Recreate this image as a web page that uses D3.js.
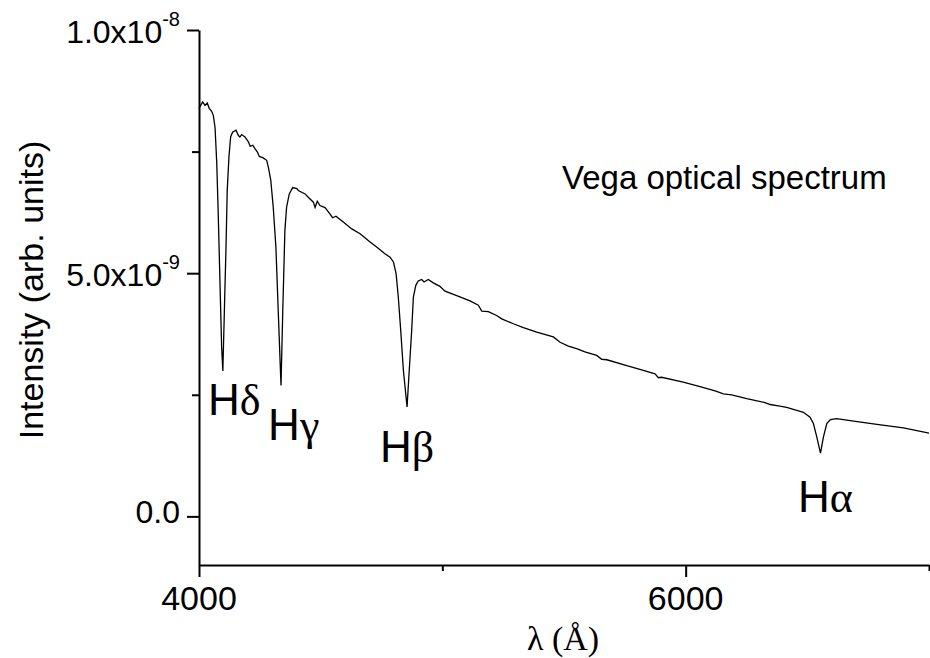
<!DOCTYPE html>
<html><head><meta charset="utf-8">
<script src="https://cdn.jsdelivr.net/npm/d3@7"></script>
<style>body{margin:0;background:#fff} text{font-family:"Liberation Sans",Arial,sans-serif;fill:#000}</style>
</head><body><svg id="c" width="930" height="658"></svg>
<script>
// Vega optical spectrum, intensity in units of 1e-9 (arb. units)
const wavelength = [4000,4015,4025,4034,4042,4052,4059,4066,4073,4079,4086,4093,4098,4104,4111,4116,4123,4130,4138,4152,4162,4168,4175,4189,4203,4210,4221,4230,4240,4248,4264,4278,4285,4295,4305,4316,4326,4337,4344,4353,4360,4371,4385,4402,4408,4436,4449,4470,4477,4486,4497,4518,4538,4549,4563,4593,4628,4662,4703,4730,4764,4785,4799,4810,4819,4829,4840,4855,4864,4874,4881,4891,4901,4915,4925,4942,4963,4990,5011,5059,5114,5148,5162,5189,5223,5244,5292,5333,5388,5456,5484,5518,5552,5586,5634,5655,5676,5758,5826,5874,5888,5901,5990,6059,6121,6155,6189,6251,6326,6347,6381,6415,6484,6511,6525,6539,6554,6566,6580,6595,6621,6676,6786,6895,6990,7000];
const intensity = [8.39,8.52,8.45,8.50,8.39,8.33,8.24,7.99,7.26,6.23,4.85,3.48,2.99,4.17,5.54,6.70,7.39,7.80,7.90,7.94,7.83,7.80,7.85,7.80,7.70,7.61,7.63,7.56,7.49,7.40,7.37,7.32,7.18,6.91,6.36,5.54,4.17,2.69,4.17,5.88,6.36,6.63,6.76,6.74,6.70,6.63,6.56,6.46,6.35,6.48,6.39,6.35,6.22,6.14,6.17,6.05,5.91,5.81,5.64,5.54,5.40,5.33,5.23,4.99,4.51,3.82,3.00,2.25,3.00,3.82,4.51,4.75,4.84,4.87,4.82,4.87,4.80,4.73,4.63,4.54,4.43,4.34,4.22,4.21,4.13,4.06,3.96,3.88,3.79,3.69,3.58,3.50,3.45,3.38,3.31,3.23,3.22,3.10,3.00,2.93,2.85,2.86,2.76,2.67,2.58,2.52,2.50,2.42,2.34,2.30,2.27,2.24,2.14,2.04,1.91,1.63,1.30,1.63,1.91,1.99,2.01,1.97,1.89,1.82,1.72,1.71];

const xTicks = [4000, 6000];
const xMinorTicks = [5000, 7000];
const yTicks = [0, 5, 10];
const yTickBase = ["0.0", "5.0x10", "1.0x10"];
const yTickExp = ["", "-9", "-8"];
const yMinorTicks = [2.5, 7.5];

const lineGreek = ["δ", "γ", "β", "α"];
const lineLabelLambda = [4037, 4284, 4744, 6462];
const lineLabelValue = [2.08, 1.56, 1.11, 0.08];

const title = "Vega optical spectrum";
const xTitle = "λ (Å)";
const yTitle = "Intensity (arb. units)";

const svg = d3.select("#c");
const x = d3.scaleLinear().domain([4000, 7000]).range([199, 929]);
const y = d3.scaleLinear().domain([-1, 10]).range([565, 30]);

// axes
svg.append("g").attr("transform", "translate(0,565)")
  .call(d3.axisBottom(x).tickValues(xTicks).tickSize(12).tickSizeOuter(0).tickFormat(""));
svg.append("g").attr("transform", "translate(0,565)")
  .call(d3.axisBottom(x).tickValues(xMinorTicks).tickSize(6).tickSizeOuter(0).tickFormat(""))
  .select(".domain").remove();
svg.append("g").attr("transform", "translate(199,0)")
  .call(d3.axisLeft(y).tickValues(yTicks).tickSize(12).tickSizeOuter(0).tickFormat(""));
svg.append("g").attr("transform", "translate(199,0)")
  .call(d3.axisLeft(y).tickValues(yMinorTicks).tickSize(7).tickSizeOuter(0).tickFormat(""))
  .select(".domain").remove();
svg.selectAll(".domain, .tick line").attr("stroke", "#000").attr("stroke-width", 2);

// x tick labels
svg.selectAll(".xlab").data(xTicks).enter().append("text")
  .attr("x", d => x(d)).attr("y", 610).attr("text-anchor", "middle")
  .style("font-size", "34px").text(d => d);

// y tick labels with superscripts
yTicks.forEach((v, i) => {
  const hasExp = !!yTickExp[i];
  const t = svg.append("text").attr("x", 180).attr("y", y(v) + (hasExp ? 13 : 7))
    .attr("text-anchor", "end").style("font-size", "32px");
  t.append("tspan").text(yTickBase[i]);
  if (hasExp) t.append("tspan").attr("dy", -17).style("font-size", "20px").text(yTickExp[i]);
});

// axis titles
svg.append("text").attr("transform", "translate(43,290) rotate(-90)")
  .attr("text-anchor", "middle").style("font-size", "34px").text(yTitle);
svg.append("text").attr("x", 563).attr("y", 650).attr("text-anchor", "middle")
  .style("font-family", "'Liberation Serif','Times New Roman',serif").style("font-size", "34px").text(xTitle);

// spectrum line
const pts = wavelength.map((w, i) => [w, intensity[i]]);
svg.append("path").datum(pts)
  .attr("fill", "none").attr("stroke", "#000").attr("stroke-width", 1.3)
  .attr("d", d3.line().x(d => x(d[0])).y(d => y(d[1])));

// annotation
svg.append("text").attr("x", 562).attr("y", 189).style("font-size", "33px").text(title);

lineGreek.forEach((g, i) => {
  const t = svg.append("text").attr("x", x(lineLabelLambda[i])).attr("y", y(lineLabelValue[i]))
    .style("font-size", "44px");
  t.append("tspan").text("H");
  t.append("tspan").style("font-family", "'Liberation Serif','Times New Roman',serif").text(g);
});
</script></body></html>
